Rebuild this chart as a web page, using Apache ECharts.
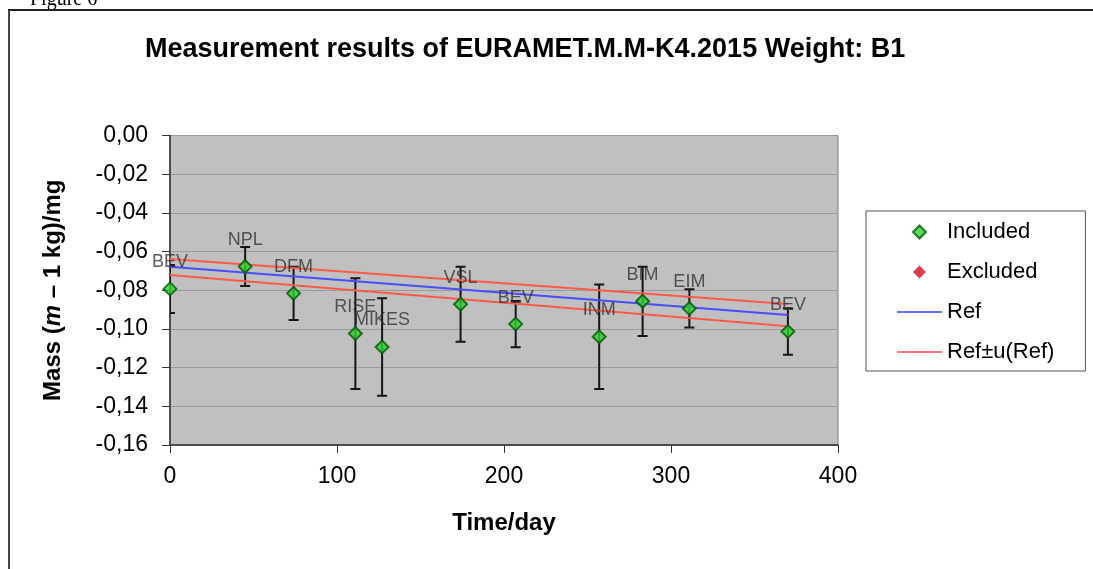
<!DOCTYPE html>
<html>
<head>
<meta charset="utf-8">
<script src="https://cdn.jsdelivr.net/npm/echarts@6/dist/echarts.min.js"></script>
<style>
html,body{margin:0;padding:0;background:#fff;}
#c{width:1093px;height:569px;}
</style>
</head>
<body>
<div id="c"></div>
<script>
// ---- data ----
const labs = ['BEV','NPL','DFM','RISE','MIKES','VSL','BEV','INM','BIM','EIM','BEV'];
const days = [0, 45, 74, 111, 127, 174, 207, 257, 283, 311, 370];
const vals = [-0.0793, -0.0677, -0.0816, -0.1024, -0.1093, -0.0872, -0.0975, -0.1040, -0.0857, -0.0894, -0.1013];
const unc  = [0.0124, 0.0101, 0.0138, 0.0286, 0.0252, 0.0194, 0.0120, 0.0270, 0.0179, 0.0099, 0.0120];
const refDays = [0, 370];
const refVals = [-0.0678, -0.0928];
const refUp   = [-0.0638, -0.0871];
const refLo   = [-0.0721, -0.0986];
const xTicks = [0, 100, 200, 300, 400];
const yTicks = [0, -0.02, -0.04, -0.06, -0.08, -0.10, -0.12, -0.14, -0.16];

const FONT = '"Liberation Sans", Arial, sans-serif';
const chart = echarts.init(document.getElementById('c'), null, {renderer:'canvas'});

const pts = days.map((d,i)=>[d, vals[i]]);
const errs = days.map((d,i)=>[d, vals[i], unc[i]]);
const pair = (xs, ys) => xs.map((x,i)=>[x, ys[i]]);

const DIAMOND = 'path://M0,-1L1,0L0,1L-1,0Z';
const LINEICON = 'path://M0,0L45,0L45,2L0,2Z';

const option = {
  backgroundColor: '#ffffff',
  animation: false,
  title: {
    text: 'Measurement results of EURAMET.M.M-K4.2015 Weight: B1',
    left: 140, top: 31,
    textStyle: {fontFamily: FONT, fontSize: 27, fontWeight: 'bold', color: '#000'}
  },
  graphic: [
    {type:'text', left: 30, top: -10, style:{text:'Figure 6', fontFamily:'"Liberation Serif", "Times New Roman", serif', fontSize:20, fill:'#000'}},
    {type:'line', shape:{x1:8, y1:10, x2:1093, y2:10}, style:{stroke:'#222', lineWidth:2}},
    {type:'line', shape:{x1:9, y1:10, x2:9, y2:569}, style:{stroke:'#444', lineWidth:2}}
  ],
  grid: {
    left: 170, right: 255, top: 135.5, bottom: 124,
    show: true, backgroundColor: '#c0c0c0', borderColor: '#808080', borderWidth: 1
  },
  legend: {
    orient: 'vertical',
    left: 866, top: 211,
    padding: [10, 31, 8, 31],
    itemWidth: 45, itemHeight: 13, itemGap: 18,
    symbolKeepAspect: true,
    borderColor: '#555', borderWidth: 1, backgroundColor: '#fff',
    textStyle: {fontFamily: FONT, fontSize: 22, color: '#000', lineHeight: 22},
    data: [
      {name: 'Included', icon: DIAMOND},
      {name: 'Excluded', icon: DIAMOND},
      {name: 'Ref', icon: LINEICON},
      {name: 'Ref±u(Ref)', icon: LINEICON}
    ]
  },
  xAxis: {
    type: 'value', min: xTicks[0], max: xTicks[xTicks.length-1], interval: 100,
    name: 'Time/day', nameLocation: 'middle', nameGap: 66,
    nameTextStyle: {fontFamily: FONT, fontSize: 24, fontWeight: 'bold', color: '#000'},
    axisLine: {show: true, onZero: false, lineStyle: {color: '#333', width: 1.5}},
    axisTick: {show: true, inside: false, length: 8, lineStyle: {color: '#333'}},
    axisLabel: {fontFamily: FONT, fontSize: 23, color: '#000', margin: 20},
    splitLine: {show: false}
  },
  yAxis: {
    type: 'value', min: yTicks[yTicks.length-1], max: yTicks[0], interval: 0.02,
    name: '{b|Mass (}{i|m}{b| – 1 kg)/mg}', nameLocation: 'middle', nameGap: 105, nameRotate: 90,
    nameTextStyle: {
      fontFamily: FONT, fontSize: 24, fontWeight: 'bold', color: '#000',
      rich: {
        b: {fontFamily: FONT, fontSize: 24, fontWeight: 'bold', color: '#000'},
        i: {fontFamily: FONT, fontSize: 24, fontWeight: 'bold', fontStyle: 'italic', color: '#000'}
      }
    },
    axisLine: {show: true, onZero: false, lineStyle: {color: '#333', width: 1.5}},
    axisTick: {show: true, inside: false, length: 8, lineStyle: {color: '#333'}},
    axisLabel: {
      fontFamily: FONT, fontSize: 23, color: '#000', margin: 22,
      formatter: v => Math.abs(v) < 1e-9 ? '0,00' : v.toFixed(2).replace('.', ',')
    },
    splitLine: {show: true, lineStyle: {color: '#9a9a9a', width: 1}}
  },
  series: [
    {
      name: 'errbars', type: 'custom', z: 2, clip: true, silent: true,
      data: errs,
      encode: {x: 0, y: 1},
      renderItem: function (params, api) {
        const x = api.value(0), y = api.value(1), e = api.value(2);
        const t = api.coord([x, y + e]);
        const b = api.coord([x, y - e]);
        const hw = 5;
        const st = {stroke: '#151515', lineWidth: 2};
        return {type: 'group', children: [
          {type: 'line', shape: {x1: t[0], y1: t[1], x2: b[0], y2: b[1]}, style: st},
          {type: 'line', shape: {x1: t[0]-hw, y1: t[1], x2: t[0]+hw, y2: t[1]}, style: st},
          {type: 'line', shape: {x1: b[0]-hw, y1: b[1], x2: b[0]+hw, y2: b[1]}, style: st}
        ]};
      }
    },
    {
      name: 'Ref', type: 'line', z: 3, symbol: 'none', showSymbol: false,
      data: pair(refDays, refVals),
      lineStyle: {color: '#4b4bff', width: 2}, itemStyle: {color: '#6a6aff'}
    },
    {
      name: 'Ref±u(Ref)', type: 'line', z: 3, symbol: 'none', showSymbol: false,
      data: pair(refDays, refUp),
      lineStyle: {color: '#ff5a4a', width: 2}, itemStyle: {color: '#ff7070'}
    },
    {
      name: 'Ref±u(Ref)', type: 'line', z: 3, symbol: 'none', showSymbol: false,
      data: pair(refDays, refLo),
      lineStyle: {color: '#ff5a4a', width: 2}, itemStyle: {color: '#ff7070'}
    },
    {
      name: 'Included', type: 'scatter', z: 4, symbol: 'diamond', symbolSize: 13, symbolKeepAspect: true,
      data: pts,
      itemStyle: {color: '#2fd02f', borderColor: '#005a00', borderWidth: 2},
      label: {
        show: true, position: 'top', distance: 10,
        fontFamily: FONT, fontSize: 18, color: '#333',
        formatter: p => labs[p.dataIndex]
      }
    },
    {
      name: 'Excluded', type: 'scatter', z: 4, symbol: 'diamond', symbolSize: 13, symbolKeepAspect: true,
      data: [],
      itemStyle: {color: '#d0102a'}
    }
  ]
};
chart.setOption(option);
</script>
</body>
</html>
